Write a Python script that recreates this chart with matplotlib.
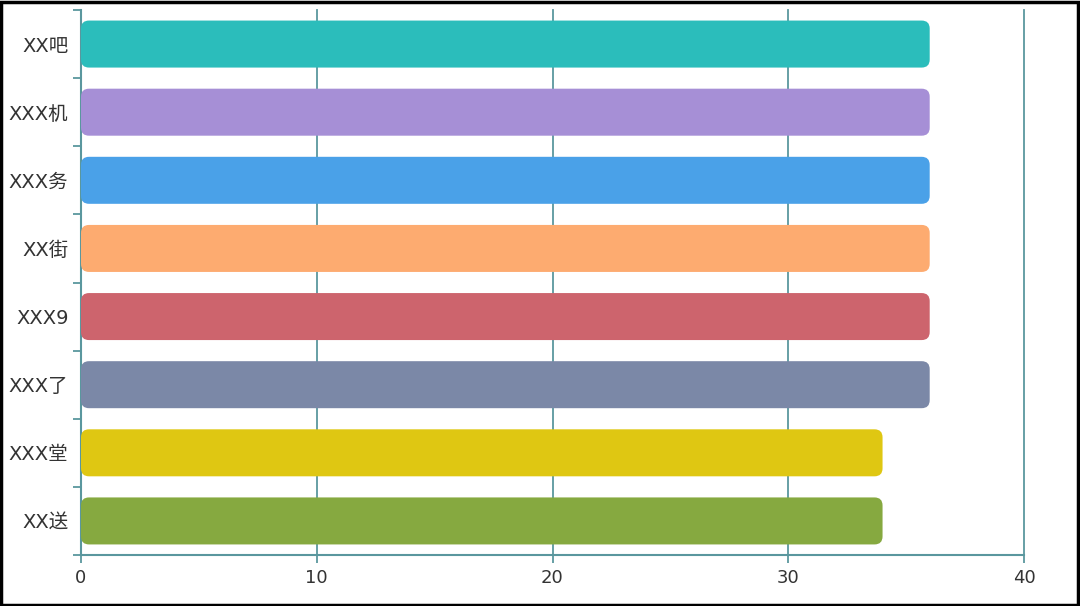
import matplotlib
matplotlib.use('Agg')
import matplotlib.pyplot as plt
from matplotlib.patches import FancyBboxPatch, Rectangle

plt.rcParams['font.family'] = ['DejaVu Sans', 'Noto Sans CJK SC']

# data (bottom to top)
names = ['XX送', 'XXX堂', 'XXX了', 'XXX9', 'XX街', 'XXX务', 'XXX机', 'XX吧']
values = [34, 34, 36, 36, 36, 36, 36, 36]
colors = ['#86a940', '#dfc712', '#7b88a7', '#cd646d', '#fdab70', '#4aa1e8', '#a68fd6', '#2bbdbb']
xticks = [0, 10, 20, 30, 40]

axis_col = '#5a979e'

fig = plt.figure(figsize=(10.8, 6.06), dpi=100)
ax = fig.add_axes([81/1080, 51/606, 943/1080, 545/606])

ax.set_xlim(0, 40)
ax.set_ylim(-0.5, len(names) - 0.5)

# pixel -> data size for rounded corners
px_x = 40 / 943
px_y = len(names) / 545
r = 8 * px_x
bar_h = 0.69

for i, (v, c) in enumerate(zip(values, colors)):
    box = FancyBboxPatch((0, i - bar_h / 2), v, bar_h,
                         boxstyle=f'round,pad=0,rounding_size={r}',
                         mutation_aspect=px_y / px_x,
                         facecolor=c, edgecolor='none', zorder=3)
    ax.add_patch(box)

# grid
for x in xticks[1:]:
    ax.axvline(x, color=axis_col, lw=1.3, zorder=1, clip_on=False)

for s in ['top', 'right']:
    ax.spines[s].set_visible(False)
for s in ['left', 'bottom']:
    ax.spines[s].set_color(axis_col)
    ax.spines[s].set_linewidth(1.5)

ax.set_xticks(xticks)
ax.set_xticklabels([str(x) for x in xticks])
ax.tick_params(axis='x', length=6, width=1.3, color=axis_col, labelcolor='#333333',
               labelsize=13, pad=4)

# category ticks at boundaries, labels centered
ax.set_yticks([i - 0.5 for i in range(len(names) + 1)])
ax.set_yticklabels([])
ax.tick_params(axis='y', length=6, width=1.3, color=axis_col)
ax.set_yticks(range(len(names)), minor=True)
ax.set_yticklabels(names, minor=True)
ax.tick_params(axis='y', which='minor', length=0, labelcolor='#333333', labelsize=14, pad=9)

# figure border
fig.patches.append(Rectangle((0.001, 0.002), 0.997, 0.995, transform=fig.transFigure,
                             fill=False, edgecolor='black', lw=2.5))

fig.savefig('out.png', dpi=100)
